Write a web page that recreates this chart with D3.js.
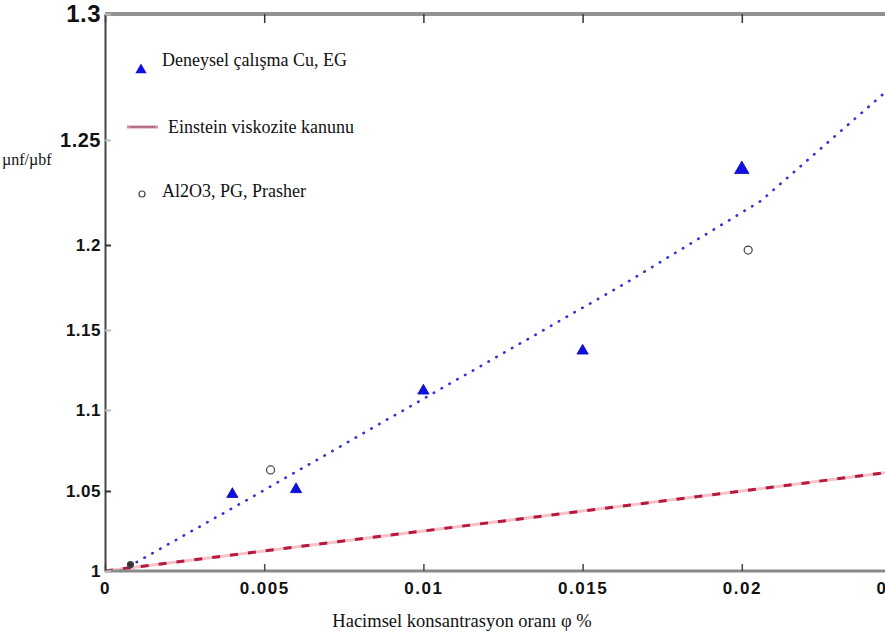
<!DOCTYPE html>
<html>
<head>
<meta charset="utf-8">
<script src="https://cdn.jsdelivr.net/npm/d3@7"></script>
<style>
  body { margin: 0; background: #fff; }
  svg { display: block; }
</style>
</head>
<body>
<div id="chart"></div>
<script>
// Viscosity ratio vs volume fraction

// tick labels
const xTicks = [0, 0.005, 0.01, 0.015, 0.02, 0.025];
const xTickLabels = ["0", "0.005", "0.01", "0.015", "0.02", "0.025"];
const yTicks = [1, 1.05, 1.1, 1.15, 1.2, 1.25, 1.3];
const yTickLabels = ["1", "1.05", "1.1", "1.15", "1.2", "1.25", "1.3"];

// Deneysel çalışma Cu, EG (triangles)
const cuX = [0.004, 0.006, 0.01, 0.015, 0.02];
const cuY = [1.048, 1.051, 1.112, 1.137, 1.236];

// Al2O3, PG, Prasher (open circles)
const alX = [0.0008, 0.0052, 0.0202];
const alY = [1.004, 1.063, 1.197];

// blue dotted fit line
const fitX = [0.0005, 0.0046, 0.01, 0.0163, 0.0206, 0.0246, 0.025];
const fitY = [1.0, 1.046, 1.107, 1.177, 1.221, 1.270, 1.274];

// Einstein viscosity law (red dashed)
const einX = [0, 0.02, 0.025];
const einY = [1.0, 1.05, 1.0625];

const width = 885, height = 640;
const plotLeft = 105, plotTop = 14, plotBottom = 571;
// the source picture is stretched unevenly in y, so the scale is piecewise
const yTickPixels = [571, 491, 410, 330, 245, 140, 14];

const x = d3.scaleLinear().domain([0, 0.025]).range([plotLeft, 901]);
const y = d3.scaleLinear().domain(yTicks).range(yTickPixels);

const svg = d3.select("#chart").append("svg")
  .attr("width", width)
  .attr("height", height)
  .attr("viewBox", [0, 0, width, height]);

const tickFont = '"Liberation Sans", Arial, sans-serif';
const serif = '"Liberation Serif", "Times New Roman", serif';

// lines
const line = d3.line().x(d => x(d[0])).y(d => y(d[1]));

const ein = d3.zip(einX, einY);
svg.append("path")
  .datum(ein)
  .attr("d", line)
  .attr("fill", "none")
  .attr("stroke", "#f6c2c8")
  .attr("stroke-width", 3);
svg.append("path")
  .datum(ein)
  .attr("d", line)
  .attr("fill", "none")
  .attr("stroke", "#b51a3a")
  .attr("stroke-width", 3)
  .attr("stroke-dasharray", "8,10");

svg.append("path")
  .datum(d3.zip(fitX, fitY))
  .attr("d", line)
  .attr("fill", "none")
  .attr("stroke", "#3232d2")
  .attr("stroke-width", 2.6)
  .attr("stroke-linecap", "round")
  .attr("stroke-dasharray", "0.5,8.5");

// axes
const xAxis = svg.append("g")
  .attr("transform", `translate(0,${plotBottom})`)
  .call(d3.axisBottom(x)
    .tickValues(xTicks)
    .tickFormat((d, i) => xTickLabels[i])
    .tickSizeInner(-7)
    .tickSizeOuter(0)
    .tickPadding(11));
xAxis.select(".domain")
  .attr("stroke", "#8a8a8a")
  .attr("stroke-width", 3)
  .attr("d", `M${plotLeft},0H${width}`);
xAxis.selectAll(".tick line").attr("stroke", "#444").attr("stroke-width", 1.5);
xAxis.selectAll("text")
  .attr("fill", "#111")
  .style("font-family", tickFont)
  .style("font-weight", "bold")
  .style("font-size", "17px")
  .style("letter-spacing", "1.5px");

// top border with ticks
const topAxis = svg.append("g")
  .attr("transform", `translate(0,${plotTop})`)
  .call(d3.axisTop(x)
    .tickValues(xTicks)
    .tickFormat("")
    .tickSizeInner(-9)
    .tickSizeOuter(0));
topAxis.select(".domain")
  .attr("stroke", "#929292")
  .attr("stroke-width", 4)
  .attr("d", `M${plotLeft},0H${width}`);
topAxis.selectAll(".tick line").attr("stroke", "#333").attr("stroke-width", 1.5);

const yAxis = svg.append("g")
  .attr("transform", `translate(${plotLeft},0)`)
  .call(d3.axisLeft(y)
    .tickValues(yTicks)
    .tickFormat((d, i) => yTickLabels[i])
    .tickSizeInner(-6)
    .tickSizeOuter(0)
    .tickPadding(4));
yAxis.select(".domain")
  .attr("stroke", "#444")
  .attr("stroke-width", 2);
yAxis.selectAll(".tick line")
  .attr("stroke", d => (d === 1.2 || d === 1.05) ? "#333" : "#bbb")
  .attr("stroke-width", 2);
yAxis.selectAll("text")
  .attr("fill", "#111")
  .style("font-family", tickFont)
  .style("font-weight", "bold")
  .style("font-size", d => d === 1.3 ? "24px" : d === 1.25 ? "20px" : "17px")
  .style("letter-spacing", "0.5px");

// markers
const tri = d3.symbol().type(d3.symbolTriangle).size(55);
svg.append("g")
  .selectAll("path")
  .data(d3.zip(cuX, cuY))
  .join("path")
  .attr("transform", d => `translate(${x(d[0])},${y(d[1])})`)
  .attr("d", (d, i) => i === cuX.length - 1 ? d3.symbol().type(d3.symbolTriangle).size(90)() : tri())
  .attr("fill", "#1010e0")
  .attr("stroke", "#0a0ab0")
  .attr("stroke-width", 0.8);

svg.append("g")
  .selectAll("circle")
  .data(d3.zip(alX, alY))
  .join("circle")
  .attr("cx", d => x(d[0]))
  .attr("cy", d => y(d[1]))
  .attr("r", (d, i) => i === 0 ? 3 : 4)
  .attr("fill", (d, i) => i === 0 ? "#333" : "none")
  .attr("stroke", "#444")
  .attr("stroke-width", 1.2);

// legend
const legend = svg.append("g");
legend.append("path")
  .attr("transform", "translate(141,70)")
  .attr("d", tri())
  .attr("fill", "#1010e0");
legend.append("text")
  .attr("x", 162).attr("y", 66)
  .text("Deneysel çalışma Cu, EG");

legend.append("line")
  .attr("x1", 127).attr("x2", 158)
  .attr("y1", 127).attr("y2", 127)
  .attr("stroke", "#d88a98")
  .attr("stroke-width", 3);
legend.append("line")
  .attr("x1", 130).attr("x2", 155)
  .attr("y1", 127).attr("y2", 127)
  .attr("stroke", "#8a5a78")
  .attr("stroke-width", 1);
legend.append("text")
  .attr("x", 168).attr("y", 133)
  .text("Einstein viskozite kanunu");

legend.append("circle")
  .attr("cx", 142).attr("cy", 194)
  .attr("r", 3)
  .attr("fill", "none")
  .attr("stroke", "#444")
  .attr("stroke-width", 1.2);
legend.append("text")
  .attr("x", 162).attr("y", 197)
  .text("Al2O3, PG, Prasher");

legend.selectAll("text")
  .attr("fill", "#111")
  .style("font-family", serif)
  .style("font-size", "18px");

// axis titles
svg.append("text")
  .attr("x", 2).attr("y", 165)
  .attr("fill", "#111")
  .style("font-family", serif)
  .style("font-size", "16px")
  .text("µnf/µbf");

svg.append("text")
  .attr("x", 462).attr("y", 627)
  .attr("text-anchor", "middle")
  .attr("fill", "#111")
  .style("font-family", serif)
  .style("font-size", "18.5px")
  .text("Hacimsel konsantrasyon oranı φ %");
</script>
</body>
</html>
